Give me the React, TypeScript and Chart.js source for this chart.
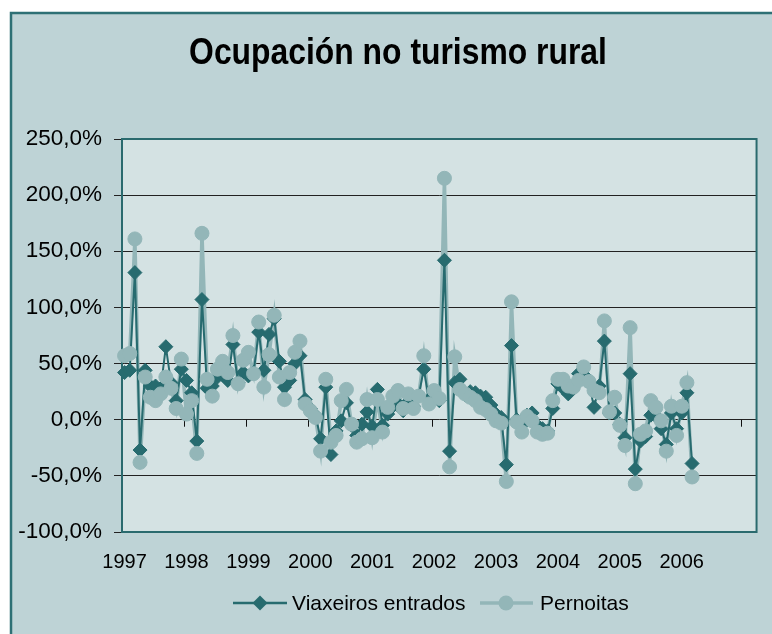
import React, { useEffect, useRef } from 'react';
import { Chart, registerables } from 'chart.js';

Chart.register(...registerables);

const W = 772;
const H = 634;

const years = ['1997', '1998', '1999', '2000', '2001', '2002', '2003', '2004', '2005', '2006'];
const monthCount = 123; // Jan 1997 .. Mar 2007 on the category axis

const viaxeiros = [
  42, 44, 131, -27, 44, 30, 30, 28, 65, 33, 17, 45,
  35, 24, -19, 107, 28, 30, 38, 40, 35, 67, 33, 42,
  39, 42, 78, 44, 76, 90, 52, 29, 35, 50, 57, 18,
  10, 4, -17, 29, -31, -10, -1, 15, -5, -14, -4, 7,
  -6, 27, -5, 5, 12, 14, 8, 16, 12, 21, 45, 18,
  22, 17, 142, -28, 33, 36, 22, 25, 24, 21, 20, 13,
  5, 2, -40, 66, 0, -5, 4, 6, -5, -8, -10, 10,
  32, 28, 23, 30, 41, 40, 33, 11, 30, 70, 6, 6,
  -4, -16, 41, -44, -19, -15, 4, 3, -8, -22, 6, -8,
  6, 24, -39,
];

const pernoitas = [
  57, 59, 161, -38, 38, 20, 17, 23, 38, 28, 10, 54,
  5, 17, -30, 166, 36, 21, 45, 52, 42, 75, 32, 53,
  60, 41, 87, 29, 58, 93, 38, 18, 42, 60, 70, 14,
  8, 2, -28, 36, -20, -14, 17, 27, -4, -20, -17, 18,
  -16, 18, -11, 11, 21, 26, 10, 23, 10, 21, 57, 14,
  26, 19, 215, -42, 56, 27, 23, 20, 17, 11, 9, 5,
  -1, -3, -55, 105, -2, -11, 3, -1, -11, -13, -12, 17,
  36, 36, 30, 29, 35, 47, 34, 26, 24, 88, 7, 20,
  -5, -23, 82, -57, -13, -10, 17, 11, -1, -28, 12, -14,
  12, 33, -51,
];

const yMin = -100;
const yMax = 250;
const yStep = 50;

const seriesNames = ['Viaxeiros entrados', 'Pernoitas'];
const titleText = 'Ocupación no turismo rural';

const DARK = '#276B6F';
const LIGHT = '#93B6B8';
const FRAME_BG = '#BED3D6';
const PLOT_BG = '#D4E2E3';
const FRAME_BORDER = '#2E7075';
const FONT = "'Liberation Sans', Arial, sans-serif";

const categories: string[] = Array.from({ length: monthCount }, (_, i) =>
  i % 12 === 0 && i / 12 < years.length ? years[i / 12] : ''
);

function drawDiamond(ctx: CanvasRenderingContext2D, x: number, y: number, r: number) {
  ctx.beginPath();
  ctx.moveTo(x - r, y);
  ctx.lineTo(x, y - r);
  ctx.lineTo(x + r, y);
  ctx.lineTo(x, y + r);
  ctx.closePath();
  ctx.fill();
}

const framePlugin = {
  id: 'frame',
  beforeDraw(chart: any) {
    const { ctx, chartArea } = chart;
    ctx.save();
    ctx.fillStyle = '#ffffff';
    ctx.fillRect(0, 0, W, H);
    ctx.fillStyle = FRAME_BG;
    ctx.fillRect(10, 12, W, H);
    ctx.strokeStyle = FRAME_BORDER;
    ctx.lineWidth = 2.5;
    ctx.beginPath();
    ctx.moveTo(11, H + 5);
    ctx.lineTo(11, 13);
    ctx.lineTo(W + 5, 13);
    ctx.stroke();
    ctx.fillStyle = PLOT_BG;
    ctx.fillRect(chartArea.left, chartArea.top, chartArea.right - chartArea.left, chartArea.bottom - chartArea.top);
    ctx.restore();
  },
  beforeDatasetsDraw(chart: any) {
    const { ctx, chartArea, scales } = chart;
    const y0 = scales.y.getPixelForValue(0);
    const step = (chartArea.right - chartArea.left) / monthCount;
    ctx.save();
    ctx.strokeStyle = '#111';
    ctx.lineWidth = 1;
    ctx.beginPath();
    for (let k = 1; k * 12 < monthCount; k++) {
      const x = Math.round(chartArea.left + k * 12 * step) + 0.5;
      ctx.moveTo(x, y0);
      ctx.lineTo(x, y0 + 7);
    }
    ctx.stroke();
    ctx.strokeStyle = '#2A6A6E';
    ctx.lineWidth = 2;
    ctx.strokeRect(chartArea.left, chartArea.top, chartArea.right - chartArea.left, chartArea.bottom - chartArea.top);
    ctx.restore();
  },
  afterDraw(chart: any) {
    const { ctx } = chart;
    ctx.save();
    ctx.fillStyle = '#000';
    ctx.translate(398, 64);
    ctx.scale(0.885, 1);
    ctx.font = `bold 36px ${FONT}`;
    ctx.textAlign = 'center';
    ctx.textBaseline = 'alphabetic';
    ctx.fillText(titleText, 0, 0);
    ctx.restore();

    ctx.save();
    const ly = 603;
    ctx.font = `21px ${FONT}`;
    ctx.textAlign = 'left';
    ctx.textBaseline = 'middle';
    // Viaxeiros entrados
    ctx.strokeStyle = DARK;
    ctx.lineWidth = 2.5;
    ctx.beginPath();
    ctx.moveTo(233, ly);
    ctx.lineTo(287, ly);
    ctx.stroke();
    ctx.fillStyle = DARK;
    drawDiamond(ctx, 260, ly, 7.5);
    ctx.fillStyle = '#000';
    ctx.fillText(seriesNames[0], 292, ly + 1);
    // Pernoitas
    ctx.strokeStyle = LIGHT;
    ctx.lineWidth = 3.5;
    ctx.beginPath();
    ctx.moveTo(480, ly);
    ctx.lineTo(533, ly);
    ctx.stroke();
    ctx.fillStyle = LIGHT;
    ctx.beginPath();
    ctx.arc(506, ly, 7.5, 0, Math.PI * 2);
    ctx.fill();
    ctx.fillStyle = '#000';
    ctx.fillText(seriesNames[1], 540, ly + 1);
    ctx.restore();
  },
};

export default function App() {
  const canvasRef = useRef<HTMLCanvasElement | null>(null);

  useEffect(() => {
    if (!canvasRef.current) return;
    const chart = new Chart(canvasRef.current, {
      type: 'line',
      data: {
        labels: categories,
        datasets: [
          {
            label: seriesNames[1] + ' line',
            data: pernoitas,
            borderColor: LIGHT,
            borderWidth: 3.5,
            pointRadius: 0,
            fill: false,
            tension: 0,
            order: 4,
          },
          {
            label: seriesNames[0] + ' line',
            data: viaxeiros,
            borderColor: DARK,
            borderWidth: 2,
            pointRadius: 0,
            fill: false,
            tension: 0,
            order: 3,
          },
          {
            label: seriesNames[0],
            data: viaxeiros,
            showLine: false,
            pointStyle: 'rectRot',
            pointRadius: 7,
            pointBorderWidth: 1,
            pointBackgroundColor: DARK,
            pointBorderColor: DARK,
            order: 2,
          },
          {
            label: seriesNames[1],
            data: pernoitas,
            showLine: false,
            pointStyle: 'circle',
            pointRadius: 7,
            pointBorderWidth: 1,
            pointBackgroundColor: LIGHT,
            pointBorderColor: LIGHT,
            order: 1,
          },
        ],
      },
      options: {
        responsive: false,
        animation: false,
        devicePixelRatio: 1,
        layout: { padding: { left: 0, top: 139, right: 8, bottom: 0 } },
        plugins: {
          legend: { display: false },
          title: { display: false },
          tooltip: { enabled: false },
        },
        scales: {
          x: {
            type: 'category',
            offset: true,
            grid: { display: false, drawTicks: false },
            border: { display: false },
            ticks: {
              autoSkip: false,
              maxRotation: 0,
              minRotation: 0,
              padding: 18,
              color: '#000',
              font: { family: FONT, size: 20 },
              callback: (_v: any, i: number) => categories[i],
            },
            afterFit: (scale: any) => {
              scale.height = H - 532;
            },
          },
          y: {
            min: yMin,
            max: yMax,
            border: { display: false },
            grid: { color: '#222', lineWidth: 1, tickLength: 8, drawTicks: true },
            ticks: {
              stepSize: yStep,
              padding: 12,
              color: '#000',
              font: { family: FONT, size: 22.5 },
              callback: (v: any) => Number(v).toFixed(1).replace('.', ',') + '%',
            },
            afterFit: (scale: any) => {
              scale.width = 122;
            },
          },
        },
      },
      plugins: [framePlugin],
    });
    return () => chart.destroy();
  }, []);

  return (
    <div style={{ position: 'absolute', left: 0, top: 0, width: W, height: H, overflow: 'hidden' }}>
      <canvas ref={canvasRef} width={W} height={H} style={{ display: 'block', width: W, height: H }} />
    </div>
  );
}
